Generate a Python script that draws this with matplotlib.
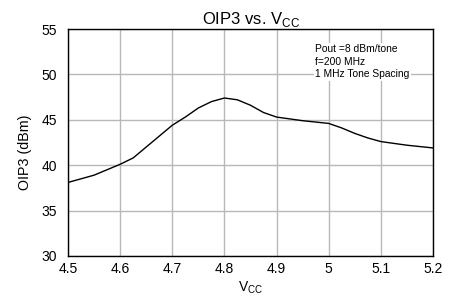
import matplotlib
matplotlib.use("Agg")
import matplotlib.pyplot as plt

plt.rcParams['font.family'] = ['Liberation Sans', 'DejaVu Sans']

# supply voltage (V) and OIP3 (dBm)
vcc = [4.500, 4.550, 4.600, 4.625, 4.650, 4.700, 4.725, 4.750, 4.775, 4.800,
       4.825, 4.850, 4.875, 4.900, 4.950, 5.000, 5.025, 5.050, 5.075, 5.100,
       5.150, 5.200]
oip3 = [38.1, 38.9, 40.1, 40.8, 42.0, 44.4, 45.3, 46.3, 47.0, 47.4,
        47.2, 46.6, 45.8, 45.3, 44.9, 44.6, 44.1, 43.5, 43.0, 42.6,
        42.2, 41.9]

xticks = [4.5, 4.6, 4.7, 4.8, 4.9, 5.0, 5.1, 5.2]
xticklabels = ["4.5", "4.6", "4.7", "4.8", "4.9", "5", "5.1", "5.2"]
yticks = [30, 35, 40, 45, 50, 55]

fig = plt.figure(figsize=(4.54, 3.04), dpi=100)
ax = fig.add_axes([0.1498, 0.158, 0.8039, 0.7466])

ax.plot(vcc, oip3, color='black', linewidth=1.0, zorder=3)

ax.set_xlim(4.5, 5.2)
ax.set_ylim(30, 55)
ax.set_xticks(xticks)
ax.set_xticklabels(xticklabels)
ax.set_yticks(yticks)
ax.tick_params(length=0, labelsize=10)
ax.tick_params(axis='x', pad=4)
ax.tick_params(axis='y', pad=8)
ax.grid(True, color='#b8b8b8', linewidth=1.0)
for s in ax.spines.values():
    s.set_color('black')
    s.set_linewidth(1.0)

ax.set_title("OIP3 vs. V$_{\\mathregular{CC}}$", fontsize=12, pad=3)
ax.set_xlabel("V$_{\\mathregular{CC}}$", fontsize=10, labelpad=3)
ax.set_ylabel("OIP3 (dBm)", fontsize=10.3)
ax.yaxis.set_label_coords(-0.099, 0.455)

ax.text(4.974, 53.3, "Pout =8 dBm/tone\nf=200 MHz\n1 MHz Tone Spacing",
        fontsize=7.4, va='top', ha='left', linespacing=1.3, zorder=4,
        bbox=dict(facecolor='white', edgecolor='none', pad=1))

fig.savefig("out.png", dpi=100)
